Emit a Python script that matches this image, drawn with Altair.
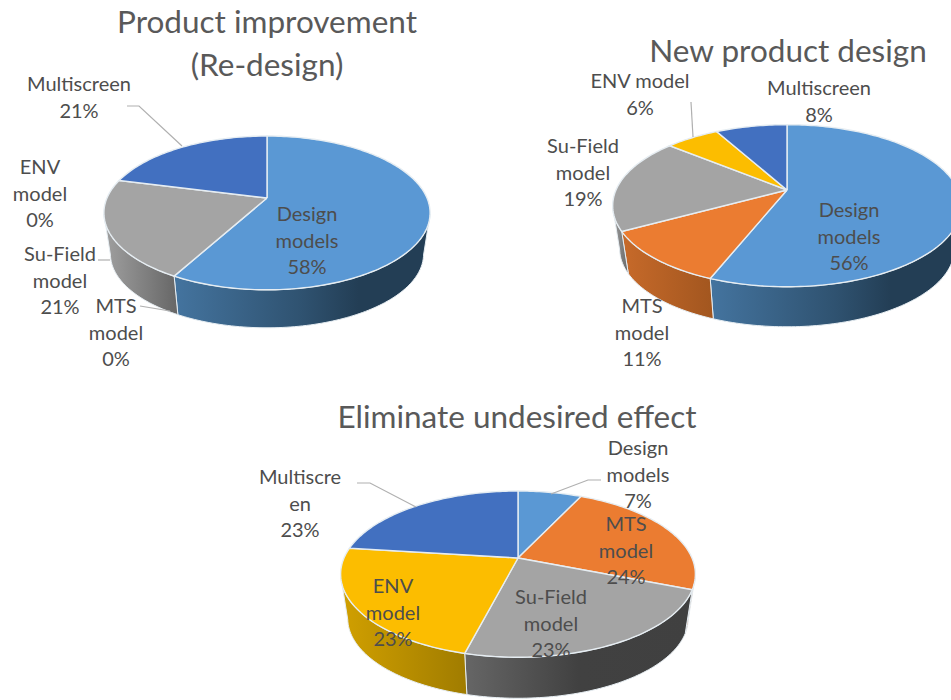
import math
import altair as alt
import pandas as pd

# Shares of each model per design task, clockwise from twelve o'clock
models = ["Design models", "MTS model", "Su-Field model", "ENV model", "Multiscreen"]
product_improvement = [58, 0, 21, 0, 21]
new_product_design = [56, 11, 19, 6, 8]
eliminate_effect = [7, 24, 23, 23, 23]

top_colors = ["#5a98d4", "#eb7c31", "#a4a4a4", "#fcbd00", "#4270c0"]
wall_stops = [
    [(0, "#44749f"), (0.5, "#2f5270"), (0.72, "#233e55"), (1, "#233e55")],
    [(0, "#c76a2a"), (1, "#a2561f")],
    [(0, "#a0a0a0"), (1, "#666666")],
    [(0, "#d1a000"), (1, "#a07c00")],
    [(0, "#2f5290"), (1, "#2a4a80")],
]
dark_gray_stops = [(0, "#666666"), (0.5, "#414141"), (1, "#404040")]

# apex x, apex y, radius, front-to-back scale, wall depth
TILT = 0.194
SHRINK = 0.96  # the lower rim sits further from the viewer than the upper one
pies = {
    "improve": (267, 198, 160, 74, 38),
    "new": (787, 190, 171, 78, 40),
    "eliminate": (518, 558, 174, 80, 41),
}
series = {
    "improve": product_improvement,
    "new": new_product_design,
    "eliminate": eliminate_effect,
}


def rim(pie, angle):
    """Project a point on the pie's upper circular rim into chart coordinates."""
    ax, ay, r, t, _ = pie
    u, v = math.sin(angle), -math.cos(angle)
    s = 1 / (1 - TILT * v)
    return ax + r * u * s, ay + t * v * s


def lower_rim(pie, angle):
    """Same rim one wall depth down, narrowed so the front edges still line up."""
    ax, ay, r, t, depth = pie
    u, v = math.sin(angle), -math.cos(angle)
    s = 1 / (1 - TILT * v)
    drop = depth + (1 - SHRINK) * t / (1 - TILT)
    return ax + r * SHRINK * u * s, ay + drop + t * SHRINK * v * s


def rows(points):
    return pd.DataFrame(
        [{"x": x, "y": y, "i": i} for i, (x, y) in enumerate(points)]
    )


X = alt.X("x:Q", scale=alt.Scale(domain=[0, 951]), axis=None)
Y = alt.Y("y:Q", scale=alt.Scale(domain=[700, 0]), axis=None)
EDGE = "#e6edf2"


def polygon(points, fill, width=1.4):
    return (
        alt.Chart(rows(points + points[:1]))
        .mark_line(fill=fill, stroke=EDGE, strokeWidth=width, clip=True)
        .encode(x=X, y=Y, order="i:Q")
    )


def gradient(stops):
    return alt.LinearGradient(
        gradient="linear", x1=0, y1=0, x2=1, y2=0,
        stops=[alt.GradientStop(offset=o, color=c) for o, c in stops],
    )


walls, tops = [], []
for key, values in series.items():
    pie = pies[key]
    horizon = pie[1] + pie[3] * TILT / (1 - TILT ** 2)
    start = 0.0
    for k, value in enumerate(values):
        end = start + value / 100
        if value > 0:
            steps = max(int(value * 3), 6)
            angles = [2 * math.pi * (start + (end - start) * n / steps) for n in range(steps + 1)]
            arc = [rim(pie, a) for a in angles]
            tops.append(polygon([pie[:2]] + arc, top_colors[k]))
            front = [a for a in angles if rim(pie, a)[1] >= horizon]
            if len(front) > 1:
                upper = [rim(pie, a) for a in front]
                lower = [lower_rim(pie, a) for a in reversed(front)]
                stops = dark_gray_stops if key == "eliminate" and k == 2 else wall_stops[k]
                walls.append(polygon(upper + lower, gradient(stops), 1.0))
        start = end

# Leader lines from outside labels to their slices
leaders = [
    [(127, 106), (139, 106), (182, 146)],
    [(98, 260), (110, 260)],
    [(140, 306), (170, 311)],
    [(691, 102), (693, 137)],
    [(357, 483), (370, 483), (416, 507)],
    [(601, 480), (588, 480), (551, 494)],
]
leader_layers = [
    alt.Chart(rows(p)).mark_line(stroke="#b0b0b0", strokeWidth=1.2).encode(x=X, y=Y, order="i:Q")
    for p in leaders
]

FONT = "Lato"
pi, np_, ee = product_improvement, new_product_design, eliminate_effect

# label text, centre x, centre y of its first line
slice_labels = [
    (f"Multiscreen\n{pi[4]}%", 79, 85),
    (f"ENV\nmodel\n{pi[3]}%", 40, 168),
    (f"Su-Field\nmodel\n{pi[2]}%", 60, 255),
    (f"MTS\nmodel\n{pi[1]}%", 116, 307),
    (f"Design\nmodels\n{pi[0]}%", 307, 215),
    (f"ENV model\n{np_[3]}%", 640, 82),
    (f"Multiscreen\n{np_[4]}%", 819, 89),
    (f"Su-Field\nmodel\n{np_[2]}%", 583, 147),
    (f"MTS\nmodel\n{np_[1]}%", 642, 307),
    (f"Design\nmodels\n{np_[0]}%", 849, 211),
    (f"Design\nmodels\n{ee[0]}%", 638, 449),
    (f"MTS\nmodel\n{ee[1]}%", 626, 525),
    (f"Su-Field\nmodel\n{ee[2]}%", 551, 598),
    (f"ENV\nmodel\n{ee[3]}%", 393, 587),
    (f"Multiscre\nen\n{ee[4]}%", 300, 478),
]
titles = [
    ("Product improvement\n(Re-design)", 267, 24),
    ("New product design", 788, 53),
    ("Eliminate undesired effect", 517, 419),
]


def text_layer(entries, size, line_height, color):
    df = pd.DataFrame(entries, columns=["text", "x", "y"])
    return (
        alt.Chart(df)
        .mark_text(
            font=FONT, fontSize=size, lineBreak="\n", lineHeight=line_height,
            align="center", baseline="middle", color=color,
        )
        .encode(x=X, y=Y, text="text:N")
    )


label_layer = text_layer(slice_labels, 20, 26.5, "#4d4d4d")
title_layer = text_layer(titles, 31.5, 43, "#595959")

chart = (
    alt.layer(*walls, *tops, *leader_layers, label_layer, title_layer)
    .properties(width=951, height=700, padding=0, autosize=alt.AutoSizeParams(type="none"), background="white")
    .configure_view(stroke=None)
)

chart.save("out.html", embed_options={"renderer": "svg", "actions": False})
